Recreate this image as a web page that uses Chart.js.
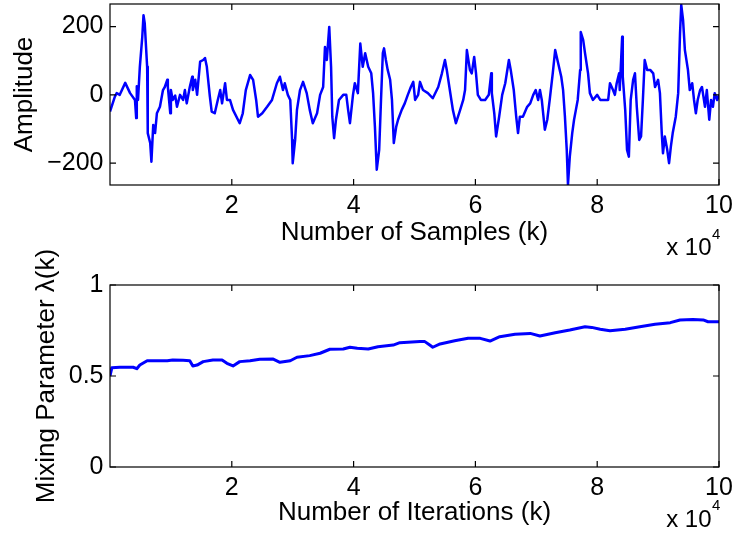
<!DOCTYPE html>
<html><head><meta charset="utf-8">
<script src="https://cdn.jsdelivr.net/npm/chart.js@4"></script>
<style>
html,body{margin:0;padding:0;background:#fff;}
#wrap{position:relative;width:738px;height:546px;overflow:hidden;background:#fff;}
canvas{position:absolute;left:0;}
</style>
</head><body>
<div id="wrap">
<canvas id="c1" width="738" height="270" style="top:0;width:738px;height:270px"></canvas>
<canvas id="c2" width="738" height="346" style="top:200px;width:738px;height:346px"></canvas>
</div>
<script>
// ---- data ----
const sampleK = [0,800,1100,1600,2500,3300,4100,4300,4400,4600,4900,5300,5500,5700,6100,6200,6600,6800,7100,7400,7700,8200,8700,9000,9400,9500,9900,10000,10300,10700,11000,11500,12000,12300,12600,13100,13500,13600,14000,14300,14800,15300,15600,15900,16400,16700,17200,17700,18100,18400,18900,19200,19700,20200,21300,21800,22300,23000,23500,24000,24300,25000,25800,26600,27400,27900,28400,28700,29200,29600,29900,30000,30400,30700,31200,31700,32300,32800,33300,34000,34500,35000,35300,35600,36000,36300,36500,36800,37100,37600,38300,38800,39100,39400,39900,40200,40700,41100,41500,41900,42400,42900,43200,43500,43800,44200,44500,44800,45000,45300,45600,46000,46300,46600,47000,47300,47900,48400,48900,49400,49800,50100,50600,50900,51400,52200,53000,53900,54500,55000,55300,55800,56300,56800,57500,58000,58300,58600,59100,59400,59800,60100,60400,60900,61600,62200,62600,62700,63100,63400,63900,64400,64900,65500,65800,66300,66700,67000,67300,67800,68500,69000,69500,69900,70300,70600,70900,71400,71800,72200,72700,73100,73600,74100,74400,74700,75000,75200,75500,75900,76200,76500,76800,77200,77300,77700,78000,78500,78800,79300,80000,80500,81100,81800,82100,82600,82900,83200,83600,83700,84100,84200,84600,84900,85200,85500,85900,86200,86500,86900,87200,87500,87800,88200,88700,89200,89500,90000,90300,90600,90800,91100,91500,91800,92100,92400,92900,93300,93600,93800,94100,94400,94900,95200,95600,95900,96200,96500,96900,97200,97400,97700,98000,98400,98700,99000,99300,99700,100000];
const amplitude = [-49,-5,5,0,35,5,-15,-68,25,-15,82,170,233,210,82,-112,-141,-196,-88,-112,-54,-35,14,23,44,23,-54,14,-15,-2,-35,0,-15,14,-25,23,53,14,44,0,97,102,108,82,-5,-49,-54,-15,14,-25,34,-15,-15,-44,-83,-54,14,58,44,-15,-64,-54,-35,-15,34,53,14,34,0,-15,-132,-200,-132,-44,14,38,5,-44,-83,-54,0,23,140,102,199,82,-64,-127,-73,-15,0,0,-44,-83,0,34,5,150,82,122,82,63,5,-93,-219,-161,-15,122,136,102,73,44,-15,-141,-93,-73,-44,-25,0,23,38,-15,0,38,14,5,-10,23,63,102,73,14,-44,-83,-44,-15,14,131,73,63,111,63,0,-15,-15,0,63,5,-54,-122,-64,0,34,102,73,14,-64,-112,-64,-64,-35,-25,0,14,-15,14,-15,-102,-73,-15,63,131,92,53,14,-64,-161,-263,-181,-112,-73,-44,-15,73,184,160,122,63,5,-15,0,-15,-15,-15,34,14,0,34,63,14,170,53,-44,-161,-181,-15,44,63,-35,-132,-122,-15,102,73,73,63,23,44,5,-112,-171,-122,-161,-200,-151,-112,-64,5,180,263,219,131,73,14,34,-15,-54,-15,14,23,0,-35,14,-73,-15,-35,5,-15,0];
const iterK = [0,300,1600,3800,4400,4900,6100,9400,10300,12000,13100,13600,14300,15300,16900,18400,19200,20200,21300,23000,24600,26800,27900,29600,30700,32800,34500,36100,38300,39400,40600,42400,44000,46500,47600,50900,51700,52500,53000,54200,56600,58800,60800,62400,64000,66500,69000,70600,73100,75500,78000,79100,80500,82100,84600,87000,89500,92000,93600,95700,97400,98200,100000];
const lambdaK = [0.50,0.545,0.548,0.548,0.540,0.560,0.584,0.584,0.588,0.586,0.584,0.555,0.560,0.579,0.588,0.588,0.570,0.555,0.579,0.584,0.592,0.593,0.575,0.584,0.603,0.612,0.625,0.647,0.648,0.658,0.652,0.648,0.661,0.670,0.683,0.689,0.689,0.670,0.658,0.676,0.694,0.707,0.707,0.692,0.716,0.729,0.734,0.720,0.738,0.753,0.771,0.767,0.757,0.749,0.757,0.771,0.784,0.793,0.808,0.811,0.808,0.798,0.798];
const xTickValues = [20000,40000,60000,80000,100000];
const ampTickValues = [-200,0,200];
const lamTickValues = [0,0.5,1];
const xTitleTop = 'Number of Samples (k)';
const xTitleBottom = 'Number of Iterations (k)';
const yTitleTop = 'Amplitude';
const yTitleBottom = 'Mixing Parameter \u03bb(k)';

// ---- styling ----
const FAMILY = "'Liberation Sans', Arial, Helvetica, sans-serif";
const tickFont = {family: FAMILY, size: 25};
const titleFont = {family: FAMILY, size: 26};
const BLUE = '#0000ff';

const boxPlugin = {
  id: 'box',
  afterDatasetsDraw(chart, args, opts) {
    const {ctx, chartArea: a, scales} = chart;
    ctx.save();
    ctx.strokeStyle = '#000';
    ctx.lineWidth = 1.2;
    ctx.strokeRect(a.left, a.top, a.right - a.left, a.bottom - a.top);
    ctx.beginPath();
    const L = 6;
    scales.x.ticks.forEach(t => {
      const px = scales.x.getPixelForValue(t.value);
      ctx.moveTo(px, a.bottom); ctx.lineTo(px, a.bottom - L);
      ctx.moveTo(px, a.top); ctx.lineTo(px, a.top + L);
    });
    scales.y.ticks.forEach(t => {
      const py = scales.y.getPixelForValue(t.value);
      ctx.moveTo(a.left, py); ctx.lineTo(a.left + L, py);
      ctx.moveTo(a.right, py); ctx.lineTo(a.right - L, py);
    });
    ctx.stroke();
    // axis multiplier  x 10^4
    ctx.fillStyle = '#000';
    ctx.textBaseline = 'alphabetic';
    ctx.font = `24px ${FAMILY}`;
    ctx.textAlign = 'right';
    ctx.fillText('x 10', opts.expX, opts.baseY);
    ctx.font = `15px ${FAMILY}`;
    ctx.textAlign = 'left';
    ctx.fillText('4', opts.expX + 0.5, opts.supY);
    ctx.restore();
  }
};

function makeChart(id, xs, ys, o) {
  const pts = xs.map((x, i) => ({x: x, y: ys[i]}));
  return new Chart(document.getElementById(id), {
    type: 'line',
    data: {datasets: [{data: pts, borderColor: BLUE, backgroundColor: BLUE, borderWidth: o.lw, borderJoinStyle: 'round', pointRadius: 0, tension: 0, fill: false}]},
    options: {
      responsive: false, animation: false, devicePixelRatio: 1,
      layout: {padding: {left: 0, right: 19, top: o.padTop, bottom: 0}},
      plugins: {legend: {display: false}, tooltip: {enabled: false}, box: o.exp},
      scales: {
        x: {
          type: 'linear', min: 0, max: 100000,
          afterBuildTicks: s => { s.ticks = xTickValues.map(v => ({value: v})); },
          afterFit: s => { s.height = o.xH; s.paddingLeft = 0; s.paddingRight = 0; },
          grid: {display: false, drawTicks: false}, border: {display: false},
          ticks: {font: tickFont, color: '#000', padding: 6, maxRotation: 0, autoSkip: false,
                  callback: v => String(v / 10000)},
          title: {display: true, text: o.xTitle, font: titleFont, color: '#000', padding: {top: 0, bottom: o.xTitlePad}}
        },
        y: {
          type: 'linear', min: o.yMin, max: o.yMax,
          afterBuildTicks: s => { s.ticks = o.yTicks.map(v => ({value: v})); },
          afterFit: s => { s.width = 110; s.paddingTop = 0; s.paddingBottom = 0; },
          grid: {display: false, drawTicks: false}, border: {display: false},
          ticks: {font: tickFont, color: '#000', padding: 6.5, autoSkip: false,
                  callback: v => (v < 0 ? '\u2212' + Math.abs(v) : String(v))},
          title: {display: true, text: o.yTitle, font: titleFont, color: '#000', padding: {top: o.yTitlePad, bottom: 0}}
        }
      }
    },
    plugins: [boxPlugin]
  });
}

makeChart('c1', sampleK, amplitude, {
  lw: 2.5, padTop: 4, xH: 85, xTitle: xTitleTop, xTitlePad: 21.7,
  yMin: -264, yMax: 266, yTicks: ampTickValues, yTitle: yTitleTop, yTitlePad: 9.4,
  exp: {expX: 711.5, baseY: 255, supY: 239}
});
makeChart('c2', iterK, lambdaK, {
  lw: 3, padTop: 85, xH: 79, xTitle: xTitleBottom, xTitlePad: 17.7,
  yMin: 0, yMax: 1, yTicks: lamTickValues, yTitle: yTitleBottom, yTitlePad: 31.4,
  exp: {expX: 711.5, baseY: 326.7, supY: 310}
});
</script>
</body></html>
